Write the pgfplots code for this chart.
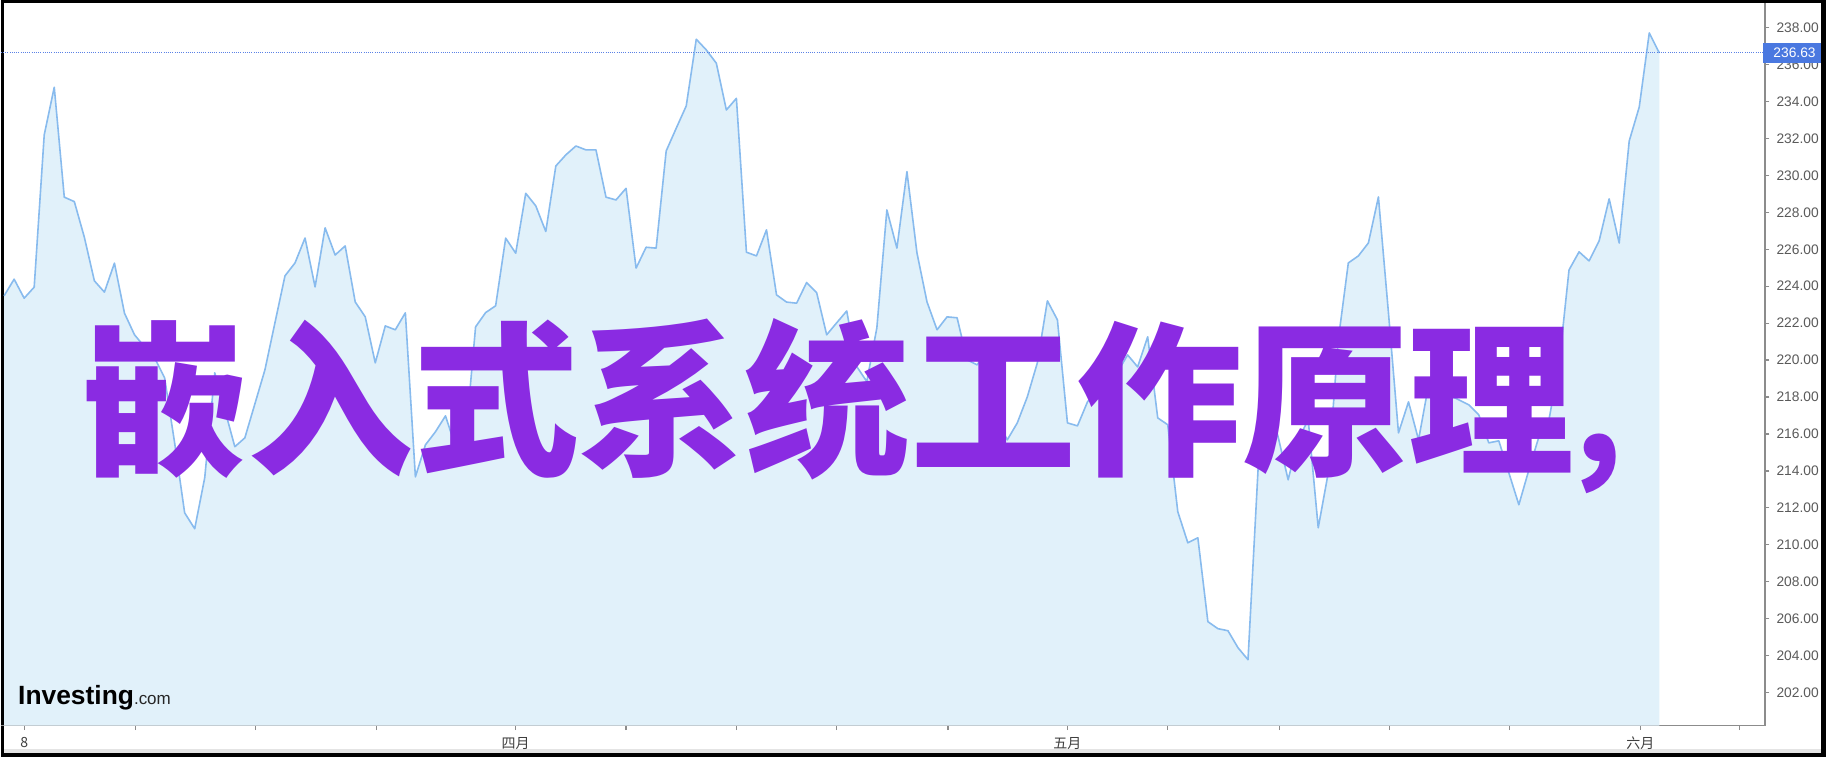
\documentclass[border=0pt]{standalone}
\usepackage{pgfplots}
\usepackage{pgfplotstable}
\pgfplotsset{compat=1.18}
\usepackage{fontspec}
\setmainfont{Liberation Sans}
\newfontfamily\cjk{Noto Sans CJK SC}
\definecolor{linec}{HTML}{88BBEE}
\definecolor{fillc}{HTML}{E1F1FA}
\definecolor{axisc}{HTML}{8C8C8C}
\definecolor{labc}{HTML}{5A5A5A}
\definecolor{dotc}{HTML}{5B82E6}
\definecolor{boxc}{HTML}{4A78E0}
\definecolor{titlec}{HTML}{8A2BE2}
\definecolor{bandc}{HTML}{E4E4E4}

\pgfplotstableread{
k v
0 223.48
1 224.38
2 223.35
3 223.95
4 232.19
5 234.77
6 228.82
7 228.58
8 226.65
9 224.29
10 223.68
11 225.25
12 222.54
13 221.37
14 220.72
15 220.12
16 219.04
17 215.52
18 211.73
19 210.87
20 213.63
21 219.31
22 217.31
23 215.31
24 215.79
25 217.63
26 219.47
27 222.02
28 224.56
29 225.26
30 226.61
31 223.96
32 227.16
33 225.69
34 226.18
35 223.15
36 222.34
37 219.85
38 221.85
39 221.64
40 222.56
41 213.68
42 215.41
43 216.12
44 216.98
45 215.31
46 215.68
47 221.80
48 222.57
49 222.94
50 226.60
51 225.79
52 229.03
53 228.35
54 226.96
55 230.51
56 231.11
57 231.59
58 231.38
59 231.38
60 228.82
61 228.67
62 229.30
63 224.98
64 226.11
65 226.06
66 231.32
67 232.55
68 233.76
69 237.37
70 236.79
71 236.07
72 233.54
73 234.17
74 225.84
75 225.64
76 227.05
77 223.53
78 223.14
79 223.08
80 224.20
81 223.65
82 221.37
83 222.02
84 222.66
85 219.65
86 218.84
87 221.74
88 228.13
89 226.06
90 230.20
91 225.80
92 223.15
93 221.64
94 222.34
95 222.29
96 220.01
97 219.74
98 220.55
99 216.77
100 215.68
101 216.60
102 218.01
103 219.85
104 223.21
105 222.18
106 216.60
107 216.44
108 217.74
109 218.28
110 218.23
111 219.36
112 220.28
113 219.63
114 221.26
115 216.87
116 216.50
117 211.79
118 210.11
119 210.38
120 205.84
121 205.46
122 205.35
123 204.43
124 203.78
125 214.06
126 217.85
127 215.85
128 213.52
129 215.68
130 216.77
131 210.92
132 213.90
133 221.10
134 225.26
135 225.64
136 226.34
137 228.83
138 222.56
139 216.06
140 217.74
141 215.68
142 218.66
143 218.39
144 218.12
145 217.85
146 217.58
147 217.04
148 215.52
149 215.63
150 213.90
151 212.17
152 214.06
153 215.85
154 216.77
155 219.74
156 224.88
157 225.86
158 225.37
159 226.45
160 228.73
161 226.34
162 231.86
163 233.70
164 237.71
165 236.63
}\pricedata

\begin{document}
\begin{tikzpicture}
\begin{scope}[x=0.5pt,y=-0.5pt]
\fill[black] (0,0) rectangle (1826,757);
\fill[white] (3.3,2.7) rectangle (1820.5,753);
\fill[bandc] (3.3,749.5) rectangle (1820.5,753);
\end{scope}
\begin{axis}[
  at={(0pt,-363pt)}, anchor=south west, scale only axis,
  width=882.5pt, height=361.5pt,
  xmin=-0.329, xmax=175.54, ymin=200.208, ymax=239.331,
  axis x line=bottom, axis y line=right,
  axis line style={-, draw=axisc, line width=0.8pt},
  tick align=outside, major tick length=2.2pt,
  tick style={axisc, line width=0.6pt},
  xtick={2,13.1,25.1,37.1,51,62,73,83,94.1,106,116,127.1,138.1,150.1,163.1,173},
  xticklabels={8,,,,四月,,,,,五月,,,,,六月,},
  xticklabel style={font=\cjk\fontsize{7}{8}\selectfont, text=labc!70!black},
  ytick={202,204,...,238},
  yticklabel style={font=\fontsize{6.9}{8}\selectfont, text=labc,
    /pgf/number format/.cd, fixed, fixed zerofill, precision=2, assume math mode=true},
]
\addplot[draw=none, fill=fillc] table[x=k,y=v]{\pricedata} \closedcycle;
\addplot[linec, line width=0.8pt, line join=round] table[x=k,y=v]{\pricedata};
\addplot[dotc, line width=0.5pt, dash pattern=on 0.5pt off 0.6pt] coordinates {(-0.329,236.63) (175.54,236.63)};
\end{axis}
\begin{scope}[x=0.5pt,y=-0.5pt]
\fill[boxc] (1763,42.7) rectangle (1820.5,62.7);
\node[anchor=west, inner sep=0, text=white, font=\fontsize{6.9}{8}\selectfont] at (1773,52.7) {236.63};
\node[anchor=base west, inner sep=0] at (17,705) {{\fontsize{13.2}{15}\selectfont\bfseries Investing}{\fontsize{8.5}{10}\selectfont\color{black!85}.com}};
\node[anchor=base west, inner sep=0, text=titlec, font=\cjk\bfseries\fontsize{83}{90}\selectfont] at (80,463) {嵌入式系统工作原理{\fontsize{69}{75}\selectfont,}};
\end{scope}
\end{tikzpicture}
\end{document}
